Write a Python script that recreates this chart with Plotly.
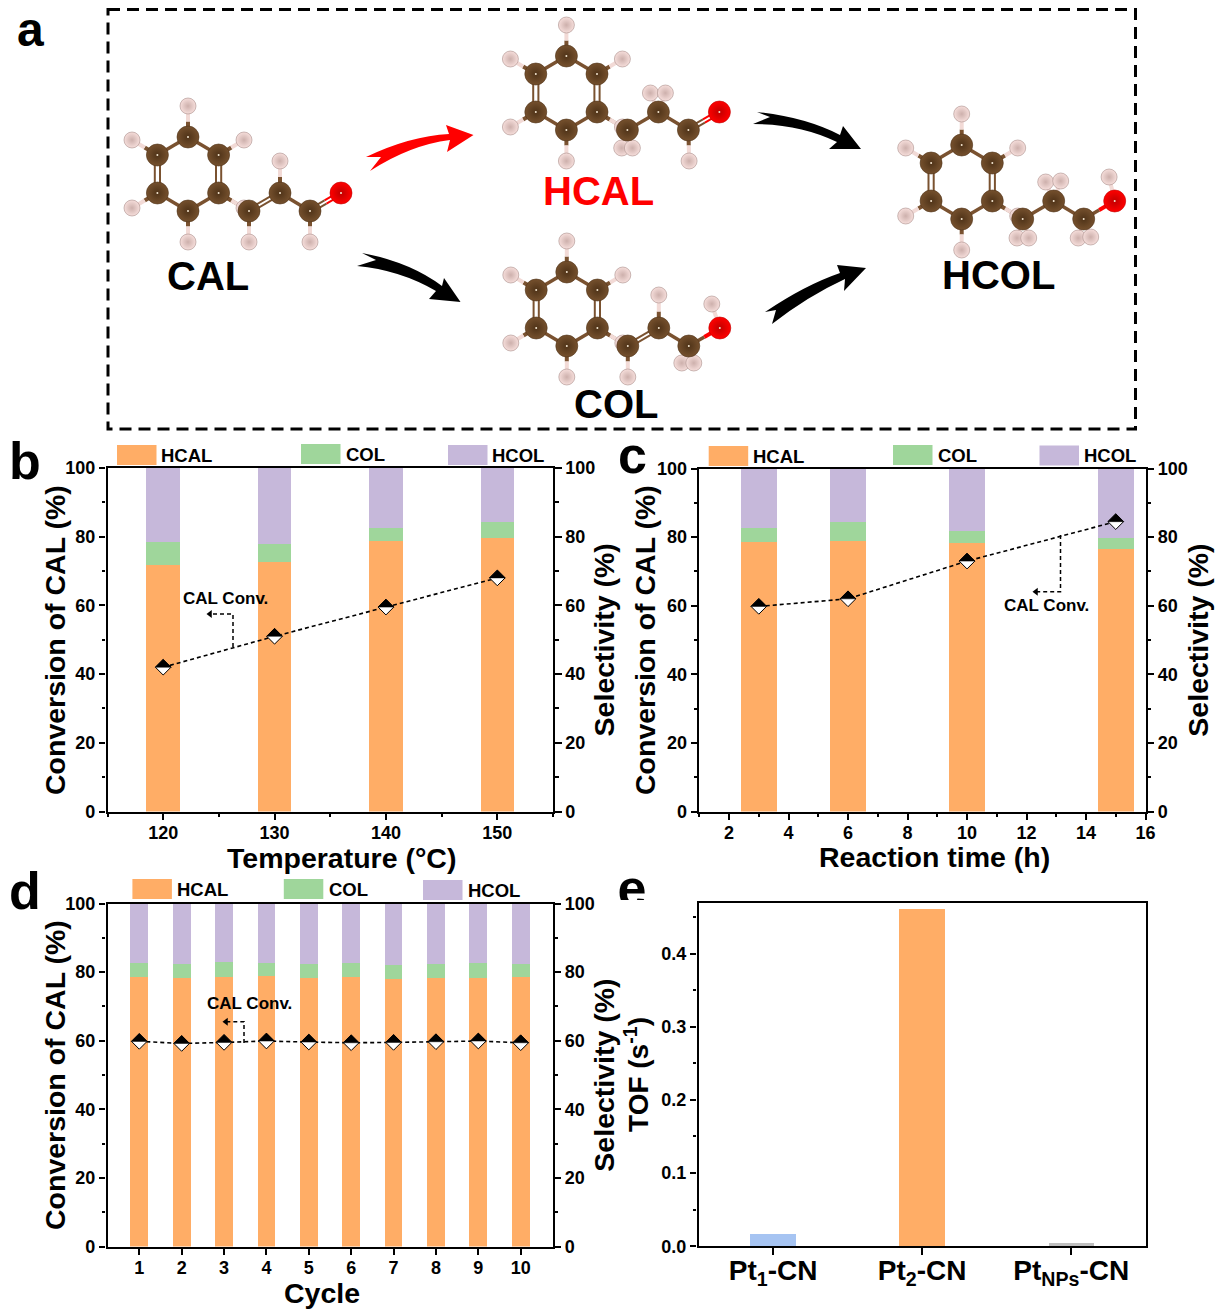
import plotly.graph_objects as go

# ---------- data ----------
temp_x = [120, 130, 140, 150]
temp_hcal = [71.9, 72.6, 78.8, 79.6]
temp_col = [6.5, 5.3, 3.7, 4.7]
temp_hcol = [21.6, 22.1, 17.5, 15.7]
temp_conv = [42, 51, 59.5, 68]

time_x = [3, 6, 10, 15]
time_hcal = [78.5, 79.0, 78.4, 76.5]
time_col = [4.2, 5.3, 3.4, 3.1]
time_hcol = [17.3, 15.7, 18.2, 20.4]
time_conv = [59.8, 62, 73, 84.5]

cycle_x = [1, 2, 3, 4, 5, 6, 7, 8, 9, 10]
cycle_hcal = [78.6, 78.4, 78.6, 79.0, 78.4, 78.6, 78.0, 78.4, 78.4, 78.5]
cycle_col = [4.0, 4.0, 4.4, 3.6, 4.0, 4.0, 4.0, 4.0, 4.2, 3.9]
cycle_hcol = [17.4, 17.6, 17.0, 17.4, 17.6, 17.4, 18.0, 17.6, 17.4, 17.6]
cycle_conv = [59.8, 59.2, 59.5, 59.9, 59.6, 59.4, 59.5, 59.7, 59.9, 59.4]

tof_labels = ["Pt<sub>1</sub>-CN", "Pt<sub>2</sub>-CN", "Pt<sub>NPs</sub>-CN"]
tof_values = [0.0173, 0.4605, 0.005]

series_names = ["HCAL", "COL", "HCOL"]

# ---------- style ----------
FONT = "Liberation Sans"
W, H = 1219, 1310
ORANGE, GREEN, PURPLE = "#FFAD66", "#9FD69B", "#C6B8DA"
TOF_COLORS = ["#A6C4F2", ORANGE, "#BFBFBF"]
BROWN = "#7A5230"
LW = 2.2
INSET = 0.5


def f(size, color="black"):
    return dict(family=FONT, size=size, color=color, weight=700)


def dom_x(a, b):
    return [(a + INSET) / W, (b - INSET) / W]


def dom_y(top, bot):
    return [1 - (bot - INSET) / H, 1 - (top + INSET) / H]


fig = go.Figure()
shapes, annots = [], []
layout = {}

OV_X, OV_Y = "x5", "y8"  # overlay in page pixels for the schematic and captions


def axis_common():
    return dict(showgrid=False, zeroline=False, showline=True, linecolor="black",
                linewidth=LW, ticks="outside", ticklen=6.5, tickwidth=2, tickcolor="black",
                tickfont=f(18), automargin=False)


def panel(n, xs, hcal, col, hcol, conv, width, box, xrange, dtick, minor, stand_r, xtick0=None):
    l, r, t, b = box
    ax = "" if n == 0 else str(n + 1)
    yr = 2 * n + 1
    yl = 2 * n + 2
    xname, yrname, ylname = f"x{ax}", f"y{yr if yr > 1 else ''}", f"y{yl}"
    for name, vals, colr in zip(series_names, [hcal, col, hcol], [ORANGE, GREEN, PURPLE]):
        fig.add_trace(go.Bar(x=xs, y=vals, width=width, name=name, marker=dict(color=colr, line_width=0),
                             xaxis=xname, yaxis=yrname, showlegend=False))
    fig.add_trace(go.Scatter(x=xs, y=conv, mode="lines+markers", name="CAL Conv.", showlegend=False,
                             line=dict(color="black", width=1.6, dash="4px,3px"),
                             marker=dict(symbol="diamond", size=12, color="white",
                                         line=dict(color="black", width=1)),
                             xaxis=xname, yaxis=ylname))
    for xv, yv in zip(xs, conv):
        shapes.append(dict(type="path", xref=xname, yref=ylname, xsizemode="pixel", ysizemode="pixel",
                           xanchor=xv, yanchor=yv, path="M -8 0 L 0 8 L 8 0 Z",
                           fillcolor="black", line=dict(color="black", width=0.5), layer="above"))
    xa = axis_common()
    xa.update(domain=dom_x(l, r), range=xrange, dtick=dtick, mirror=True, anchor=yrname, ticklabelstandoff=-3)
    if xtick0 is not None:
        xa["tick0"] = xtick0
    if minor:
        xa["minor"] = dict(dtick=minor, ticks="outside", ticklen=3.5, tickwidth=2, tickcolor="black", showgrid=False)
    layout[f"xaxis{ax}"] = xa
    ya = axis_common()
    ya.update(domain=dom_y(t, b), range=[0, 100], dtick=20, side="right", anchor=xname,
              minor=dict(dtick=10, ticks="outside", ticklen=3.5, tickwidth=2, tickcolor="black", showgrid=False),
              title=dict(text="Selectivity (%)", font=f(28.5), standoff=stand_r))
    layout[f"yaxis{yr if yr > 1 else ''}"] = ya
    yb = axis_common()
    yb.update(domain=dom_y(t, b), range=[0, 100], dtick=20, side="left", anchor=xname, overlaying=yrname,
              minor=dict(dtick=10, ticks="outside", ticklen=3.5, tickwidth=2, tickcolor="black", showgrid=False))
    layout[f"yaxis{yl}"] = yb


panel(0, temp_x, temp_hcal, temp_col, temp_hcol, temp_conv, 3.0, (107, 553.5, 467.5, 812),
      [115, 155], 10, 5, 0, xtick0=120)
panel(1, time_x, time_hcal, time_col, time_hcol, time_conv, 1.2, (698.8, 1146, 468, 812),
      [1, 16], 2, 1, 1, xtick0=2)
panel(2, cycle_x, cycle_hcal, cycle_col, cycle_hcol, cycle_conv, 0.42, (107, 553, 903, 1247),
      [0.25, 10.75], 1, None, 0, xtick0=1)

# axis captions placed off-centre as in the reference
AXIS_CAPTIONS = [
    ("Conversion of CAL (%)", 55, 640, -90),
    ("Conversion of CAL (%)", 645, 640, -90),
    ("Conversion of CAL (%)", 55, 1075, -90),
    ("Temperature (°C)", 341.5, 858, 0),
    ("Reaction time (h)", 934, 857, 0),
    ("Cycle", 322, 1293, 0),
]
for txt, xp, yp, ang in AXIS_CAPTIONS:
    annots.append(dict(text=txt, x=xp, y=yp, xref=OV_X, yref=OV_Y, showarrow=False, font=f(28.5), textangle=ang,
                       xanchor="center", yanchor="middle"))

# panel e
fig.add_trace(go.Bar(x=[0, 1, 2], y=tof_values, width=0.305, name="TOF", showlegend=False,
                     marker=dict(color=TOF_COLORS, line_width=0), xaxis="x4", yaxis="y7"))
xe = axis_common()
xe.update(domain=dom_x(698, 1146.3), range=[-0.5, 2.5], mirror=True, anchor="y7", tickmode="array",
          tickvals=[0, 1, 2], ticktext=tof_labels, tickfont=f(28), ticklabelstandoff=-8)
layout["xaxis4"] = xe
ye = axis_common()
ye.update(domain=dom_y(902.3, 1246.7), range=[0, 0.4695], dtick=0.1, tickformat=".1f", mirror=True, anchor="x4",
          minor=dict(dtick=0.05, ticks="outside", ticklen=3.5, tickwidth=2, tickcolor="black", showgrid=False),
          title=dict(text="TOF (s<sup>-1</sup>)", font=f(28), standoff=4))
layout["yaxis7"] = ye

# ---------- molecules (offsets from the benzene ring centre) ----------
RING = [(0, -37), (30.6, -19), (30.6, 19), (0, 37), (-30.6, 19), (-30.6, -19)]
RING_H = [(0, -68), (56, -34), (56, 34), (0, 68), (-56, 34), (-56, -34)]
CHAIN = [(61, 37), (92, 19), (122, 37)]
OXY = (153, 19)

MOLECULES = {
    "CAL": dict(center=(188, 174), double=[(0, 1), (2, 3)],
                h=[[(61, 68)], [(92, -13)], [(122, 68)]], oh=None),
    "HCAL": dict(center=(566.4, 93), double=[(2, 3)],
                 h=[[(55.3, 55), (66, 55)], [(84, 0), (99, 0)], [(122.7, 68)]], oh=None),
    "COL": dict(center=(566.8, 309), double=[(0, 1)],
                h=[[(61, 68)], [(92, -14)], [(115, 54), (127, 54)]], oh=(145, -5)),
    "HCOL": dict(center=(961.7, 182), double=[],
                 h=[[(55.3, 56), (67, 56)], [(84, 0), (99, -1)], [(116.5, 56), (129, 55)]], oh=(147.4, -5)),
}


def seg_trace(segs, color, width):
    xs, ys = [], []
    for (a, b) in segs:
        xs += [a[0], b[0], None]
        ys += [a[1], b[1], None]
    fig.add_trace(go.Scatter(x=xs, y=ys, mode="lines", line=dict(color=color, width=width), hoverinfo="skip",
                             showlegend=False, xaxis=OV_X, yaxis=OV_Y))


def atom_trace(pts, color, edge, size, spot=True, outline=None):
    xs = [p[0] for p in pts]
    ys = [p[1] for p in pts]
    fig.add_trace(go.Scatter(x=xs, y=ys, mode="markers", hoverinfo="skip", showlegend=False,
                             marker=dict(size=size, color=color, gradient=dict(type="radial", color=edge),
                                         line=dict(width=0.6, color=outline or edge)),
                             xaxis=OV_X, yaxis=OV_Y))
    if spot:
        fig.add_trace(go.Scatter(x=xs, y=ys, mode="markers", hoverinfo="skip", showlegend=False,
                                 marker=dict(size=2, color="#F5E6D0", line_width=0), xaxis=OV_X, yaxis=OV_Y))


def mid(a, b):
    return ((a[0] + b[0]) / 2, (a[1] + b[1]) / 2)


def shift(a, b, d):
    dx, dy = b[0] - a[0], b[1] - a[1]
    ln = (dx * dx + dy * dy) ** 0.5
    ox, oy = -dy / ln * d, dx / ln * d
    return ((a[0] + ox, a[1] + oy), (b[0] + ox, b[1] + oy))


for name, mol in MOLECULES.items():
    cx, cy = mol["center"]
    P = lambda o: (cx + o[0], cy + o[1])
    ring = [P(o) for o in RING]
    ring_h = [P(o) for o in RING_H]
    chain = [P(o) for o in CHAIN]
    oxy = P(OXY)
    thick, thin, pink_h, pink_c, red_o = [], [], [], [], []
    for i in range(6):
        a, b = ring[i], ring[(i + 1) % 6]
        if i in (1, 4):
            thin += [shift(a, b, 2.6), shift(a, b, -2.6)]
        else:
            thick.append((a, b))
    for i, j in [(0, 1), (1, 2)]:
        if (i, j) in [(d[0], d[1]) for d in mol["double"]]:
            thin += [shift(chain[i], chain[j], 2), shift(chain[i], chain[j], -2)]
        else:
            thick.append((chain[i], chain[j]))
    thick.append((ring[2], chain[0]))
    for a, hp in zip(ring, ring_h):
        pink_c.append((a, mid(a, hp)))
        pink_h.append((mid(a, hp), hp))
    hs = []
    for c, hl in zip(chain, mol["h"]):
        for o in hl:
            hp = P(o)
            hs.append(hp)
            pink_c.append((c, mid(c, hp)))
            pink_h.append((mid(c, hp), hp))
    if (2, 3) in mol["double"]:
        m = mid(chain[2], oxy)
        thin += [shift(chain[2], m, 2), shift(chain[2], m, -2)]
        seg_trace([shift(m, oxy, 2), shift(m, oxy, -2)], "#FF0000", 2)
    else:
        m = mid(chain[2], oxy)
        thick.append((chain[2], m))
        red_o.append((m, oxy))
    if mol["oh"]:
        hp = P(mol["oh"])
        hs.append(hp)
        pink_h.append((oxy, hp))
    seg_trace(thick, BROWN, 3.6)
    seg_trace(thin, BROWN, 2)
    seg_trace(pink_c, BROWN, 4)
    seg_trace(pink_h, "#F2DAD6", 4)
    if red_o:
        seg_trace(red_o, "#FF0000", 4)
    atom_trace(ring_h + hs, "#F6DEDB", "#CDB0AC", 16, spot=False, outline="#A98F8B")
    atom_trace(ring + chain, "#75502D", "#4F3318", 22)
    atom_trace([oxy], "#FF0000", "#C00000", 22)

# ---------- swoosh arrows of the scheme ----------
ARROWS = [
    ("M 366 157 Q 410 136 449 134 L 446 125 L 473.5 135 L 447 152 L 450 140 Q 410 145 370 171 L 381 157 Z", "#FF0000"),
    ("M 362 253 L 376 260 L 357 266 Q 400 270 436 291 L 429 299 L 460.5 302 L 444 278 L 442 286 Q 410 262 362 253 Z", "black"),
    ("M 757 112 L 770 117 L 753 124 Q 800 124 837 142 L 829 149 L 861 149 L 843 126 L 840 135 Q 805 117 757 112 Z", "black"),
    ("M 765 312 Q 805 285 840 273 L 837 265 L 866 268 L 844 291 L 845 279 Q 808 296 772 324 L 776 310 Z", "black"),
]
for path, colr in ARROWS:
    shapes.append(dict(type="path", xref=OV_X, yref=OV_Y, path=path, fillcolor=colr, line=dict(width=0)))

shapes.append(dict(type="rect", xref=OV_X, yref=OV_Y, x0=108, x1=1135.5, y0=9.5, y1=429,
                   line=dict(color="black", width=3, dash="12px,7px")))

SCHEME_LABELS = [("CAL", 208, 276, "black"), ("HCAL", 598, 191, "#FF0000"), ("COL", 616, 404, "black"), ("HCOL", 998, 275, "black")]
for txt, xp, yp, colr in SCHEME_LABELS:
    annots.append(dict(text=txt, x=xp, y=yp, xref=OV_X, yref=OV_Y, showarrow=False, font=f(40, colr),
                       xanchor="center", yanchor="middle"))

# ---------- panel letters ----------
LETTERS = [("a", 30, 29, 48), ("b", 25, 461, 52), ("c", 632, 455, 52), ("d", 25, 891, 52)]
for txt, xp, yp, sz in LETTERS:
    annots.append(dict(text=txt, x=xp, y=yp, xref=OV_X, yref=OV_Y, showarrow=False, font=f(sz),
                       xanchor="center", yanchor="middle"))

# clipped "e": it only shows above y = 900 in the reference
fig.add_trace(go.Scatter(x=[632], y=[893], mode="text", text=["e"], textfont=f(52), textposition="middle center",
                         cliponaxis=True, hoverinfo="skip", showlegend=False, xaxis="x6", yaxis="y9"))
layout["xaxis6"] = dict(domain=[0, 1], range=[0, W], visible=False, fixedrange=True, anchor="y9")
layout["yaxis9"] = dict(domain=[1 - 900 / H, 1 - 860 / H], range=[900, 860], visible=False, fixedrange=True, anchor="x6")

# ---------- legends and captions drawn over the panels ----------
LEGENDS = [
    [(117, 445, 159), (301, 444, 344), (448, 445, 490)],
    [(708.7, 446, 751.4), (893, 445, 936), (1039.5, 445.5, 1082)],
    [(132.4, 879, 174.7), (283.8, 879, 327), (423, 880, 466.4)],
]
for row in LEGENDS:
    for (sx, sy, tx), nm, colr in zip(row, series_names, [ORANGE, GREEN, PURPLE]):
        shapes.append(dict(type="rect", xref=OV_X, yref=OV_Y, x0=sx, x1=sx + 39.5, y0=sy, y1=sy + 20,
                           fillcolor=colr, line_width=0))
        annots.append(dict(text=nm, x=tx, y=sy + 10, xref=OV_X, yref=OV_Y, showarrow=False, font=f(18.5),
                           xanchor="left", yanchor="middle"))

CAPTIONS = [
    ("CAL Conv.", 225.5, 598.5, [233, 233, 210], [647, 614, 614], (207, 614)),
    ("CAL Conv.", 1046.5, 605, [1060.5, 1060.5, 1036], [535, 591.7, 591.7], (1033, 591.7)),
    ("CAL Conv.", 249, 1003, [244, 244, 226], [1043, 1021.7, 1021.7], (223, 1021.7)),
]
for txt, xp, yp, lx, ly, tip in CAPTIONS:
    annots.append(dict(text=txt, x=xp, y=yp, xref=OV_X, yref=OV_Y, showarrow=False, font=f(17),
                       xanchor="center", yanchor="middle"))
    fig.add_trace(go.Scatter(x=lx, y=ly, mode="lines", line=dict(color="black", width=1.5, dash="4px,3px"),
                             hoverinfo="skip", showlegend=False, xaxis=OV_X, yaxis=OV_Y))
    fig.add_trace(go.Scatter(x=[tip[0] + 3], y=[tip[1]], mode="markers", hoverinfo="skip", showlegend=False,
                             marker=dict(symbol="triangle-left", size=7, color="black", line_width=0),
                             xaxis=OV_X, yaxis=OV_Y))

layout["xaxis5"] = dict(domain=[0, 1], range=[0, W], visible=False, fixedrange=True, anchor="y8")
layout["yaxis8"] = dict(domain=[0, 1], range=[H, 0], visible=False, fixedrange=True, anchor="x5")

fig.update_layout(width=W, height=H, margin=dict(l=0, r=0, t=0, b=0, autoexpand=False), autosize=False,
                  paper_bgcolor="white", plot_bgcolor="rgba(0,0,0,0)", barmode="stack", showlegend=False,
                  font=f(18), shapes=shapes, annotations=annots, **layout)

fig.write_html("out.html", config={"displayModeBar": False},
               post_script="document.body.style.margin='0';document.body.style.overflow='hidden';")
